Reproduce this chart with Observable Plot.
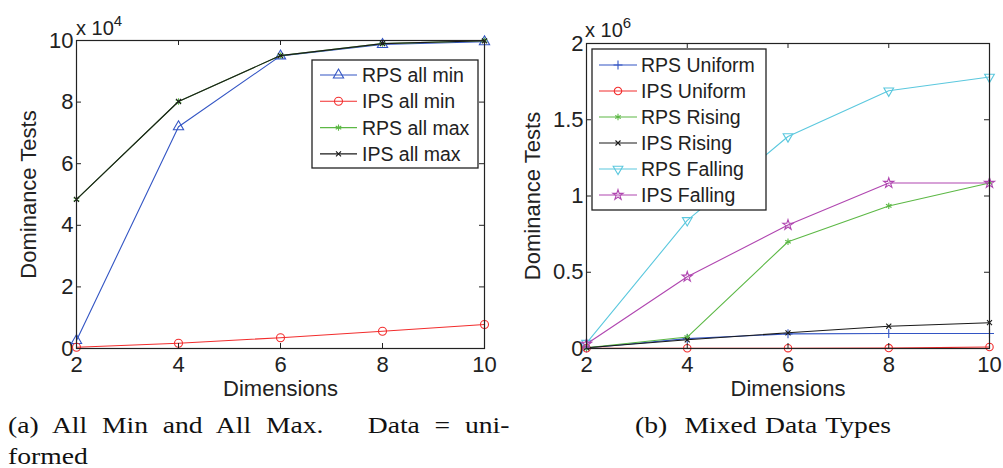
<!DOCTYPE html>
<html><head><meta charset="utf-8">
<script src="https://cdn.jsdelivr.net/npm/d3@7"></script>
<script src="https://cdn.jsdelivr.net/npm/@observablehq/plot@0.6"></script>
<style>
body{margin:0;background:#fff;}
#wrap{position:relative;width:1003px;height:468px;overflow:hidden;background:#fff;}
.panel{position:absolute;top:0;}
.cap{position:absolute;font-family:"Liberation Serif","Times New Roman",serif;font-size:24px;color:#111;line-height:24px;white-space:nowrap;transform:scaleX(1.15);transform-origin:0 0;}
</style></head><body>
<div id="wrap">
  <div id="left" class="panel" style="left:0"></div>
  <div id="right" class="panel" style="left:500px"></div>
  <div class="cap" style="left:8px;top:413px;width:436px;text-align:justify;text-align-last:justify;">(a) All Min and All Max.&nbsp;&nbsp; Data = uni-</div>
  <div class="cap" style="left:8px;top:444px;">formed</div>
  <div class="cap" style="left:635px;top:413px;word-spacing:1.5px;">(b)&nbsp; Mixed Data Types</div>
</div>
<script>
// ---------- data ----------
const dims = [2, 4, 6, 8, 10];
const dimTicks = [2, 4, 6, 8, 10];

// (a) All Min and All Max, values in raw dominance tests (axis shows x 10^4)
const leftNames = ["RPS all min", "IPS all min", "RPS all max", "IPS all max"];
const rpsAllMin = [2600, 72000, 95000, 98700, 99600];
const ipsAllMin = [400, 1700, 3500, 5600, 7800];
const rpsAllMax = [48400, 80200, 95100, 99000, 99900];
const ipsAllMax = [48400, 80200, 95100, 99000, 99900];
const leftYTicks = [0, 20000, 40000, 60000, 80000, 100000];
const leftYTickLabels = ["0", "2", "4", "6", "8", "10"];

// (b) Mixed Data Types, raw values (axis shows x 10^6)
const rightNames = ["RPS Uniform", "IPS Uniform", "RPS Rising", "IPS Rising", "RPS Falling", "IPS Falling"];
const rpsUniform = [3000, 65000, 96000, 98000, 98000];
const ipsUniform = [1000, 1500, 2000, 2500, 10000];
const rpsRising = [5000, 75000, 700000, 935000, 1085000];
const ipsRising = [5000, 57000, 103000, 146000, 169000];
const rpsFalling = [35000, 840000, 1390000, 1690000, 1780000];
const ipsFalling = [30000, 470000, 810000, 1085000, 1085000];
const rightYTicks = [0, 500000, 1000000, 1500000, 2000000];
const rightYTickLabels = ["0", "0.5", "1", "1.5", "2"];

// ---------- styling ----------
const FONT = "Liberation Sans, Arial, Helvetica, sans-serif";
const INK = "#222";
const leftStyle = [
  {color: "#3355c4", symbol: "triangle", r: 3.8, rotate: 0},
  {color: "#f22d2d", symbol: "circle", r: 4, rotate: 0},
  {color: "#5cb845", symbol: "asterisk", r: 3, rotate: 0},
  {color: "#1a1a1a", symbol: "times", r: 2.4, rotate: 0}
];
const rightStyle = [
  {color: "#3355c4", symbol: "plus", r: 3, rotate: 0},
  {color: "#f22d2d", symbol: "circle", r: 3.7, rotate: 0},
  {color: "#5cb845", symbol: "asterisk", r: 3, rotate: 0},
  {color: "#1a1a1a", symbol: "times", r: 2.4, rotate: 0},
  {color: "#5bc8de", symbol: "triangle", r: 3.6, rotate: 180},
  {color: "#b046b0", symbol: "star", r: 3.2, rotate: 0}
];
const d3Sym = {triangle: d3.symbolTriangle, circle: d3.symbolCircle, asterisk: d3.symbolAsterisk,
  times: d3.symbolTimes, plus: d3.symbolPlus, star: d3.symbolStar};

function rowsOf(names, series) {
  const rows = [];
  names.forEach((n, s) => series[s].forEach((v, i) => rows.push({series: n, dim: dims[i], value: v})));
  return rows;
}

function panel(cfg) {
  const innerW = cfg.width - cfg.ml - cfg.mr;
  const innerH = cfg.height - cfg.mt - cfg.mb;
  const rows = rowsOf(cfg.names, cfg.series);
  const marks = [];
  cfg.names.forEach((n, s) => {
    const st = cfg.style[s];
    const data = rows.filter(d => d.series === n);
    marks.push(Plot.line(data, {x: "dim", y: "value", stroke: st.color, strokeWidth: 1.1}));
    marks.push(Plot.dot(data, {x: "dim", y: "value", stroke: st.color, fill: "none", symbol: st.symbol, r: st.r, rotate: st.rotate, strokeWidth: 1.1}));
  });
  const fmt = d => cfg.yLabels[cfg.yTicks.indexOf(d)];
  const plot = Plot.plot({
    width: cfg.width, height: cfg.height,
    marginLeft: cfg.ml, marginRight: cfg.mr, marginTop: cfg.mt, marginBottom: cfg.mb,
    style: {fontFamily: FONT, fontSize: "22px", color: INK, background: "transparent", overflow: "visible"},
    x: {domain: [2, 10]},
    y: {domain: cfg.yDomain},
    marks: [
      Plot.axisX({ticks: dimTicks, tickSize: 0, tickPadding: 8, label: null, fontSize: 22}),
      Plot.axisY({ticks: cfg.yTicks, tickFormat: fmt, tickSize: 0, tickPadding: 3, label: null, fontSize: 22}),
      ...marks,
      Plot.tickX(dimTicks, {x: d => d, insetTop: innerH - 5, stroke: INK}),
      Plot.tickX(dimTicks, {x: d => d, insetBottom: innerH - 5, stroke: INK}),
      Plot.tickY(cfg.yTicks, {y: d => d, insetLeft: innerW - 5, stroke: INK}),
      Plot.tickY(cfg.yTicks, {y: d => d, insetRight: innerW - 5, stroke: INK}),
      Plot.frame({stroke: INK, strokeWidth: 1.2}),
      Plot.text(["Dimensions"], {frameAnchor: "bottom", dy: 40, lineAnchor: "middle", textAnchor: "middle", fontSize: 22, fill: INK}),
      Plot.text(["Dominance Tests"], {frameAnchor: "left", dx: cfg.ylabDx, rotate: -90, textAnchor: "middle", lineAnchor: "middle", fontSize: 22, fill: INK})
    ]
  });
  const svg = d3.select(plot);
  // multiplier label
  const m = svg.append("text").attr("x", cfg.mulX).attr("y", cfg.mulY).attr("text-anchor", "start")
    .attr("font-family", FONT).attr("font-size", 20).attr("fill", INK).text("x 10");
  m.append("tspan").attr("dy", -9).attr("font-size", 15).text(cfg.exp);
  // legend
  const L = cfg.legend;
  const g = svg.append("g").attr("font-family", FONT).attr("font-size", 19.5).attr("text-anchor", "start");
  g.append("rect").attr("x", L.x).attr("y", L.y).attr("width", L.w).attr("height", L.h)
    .attr("fill", "white").attr("stroke", INK).attr("stroke-width", 1.3);
  cfg.names.forEach((n, s) => {
    const st = cfg.style[s];
    const y = L.y0 + s * L.dy;
    g.append("line").attr("x1", L.lx1).attr("x2", L.lx2).attr("y1", y).attr("y2", y)
      .attr("stroke", st.color).attr("stroke-width", 1.1);
    g.append("path").attr("d", d3.symbol(d3Sym[st.symbol], Math.PI * st.r * st.r)())
      .attr("transform", `translate(${(L.lx1 + L.lx2) / 2},${y}) rotate(${st.rotate})`)
      .attr("fill", "none").attr("stroke", st.color).attr("stroke-width", 1.1);
    g.append("text").attr("x", L.tx).attr("y", y).attr("dy", "0.36em").attr("fill", INK).text(n);
  });
  return plot;
}

document.getElementById("left").appendChild(panel({
  width: 500, height: 400, ml: 76, mr: 16, mt: 40, mb: 52,
  names: leftNames, series: [rpsAllMin, ipsAllMin, rpsAllMax, ipsAllMax], style: leftStyle,
  yDomain: [0, 100000], yTicks: leftYTicks, yLabels: leftYTickLabels, ylabDx: -48,
  mulX: 76, mulY: 35, exp: "4",
  legend: {x: 312, y: 60, w: 166, h: 108, y0: 75, dy: 26.3, lx1: 320, lx2: 357, tx: 362}
}));

document.getElementById("right").appendChild(panel({
  width: 503, height: 400, ml: 86, mr: 14, mt: 43, mb: 52,
  names: rightNames, series: [rpsUniform, ipsUniform, rpsRising, ipsRising, rpsFalling, ipsFalling], style: rightStyle,
  yDomain: [0, 2000000], yTicks: rightYTicks, yLabels: rightYTickLabels, ylabDx: -54,
  mulX: 85, mulY: 37, exp: "6",
  legend: {x: 92, y: 49, w: 174, h: 161, y0: 65, dy: 26, lx1: 99, lx2: 137, tx: 141}
}));
</script>
</body></html>
